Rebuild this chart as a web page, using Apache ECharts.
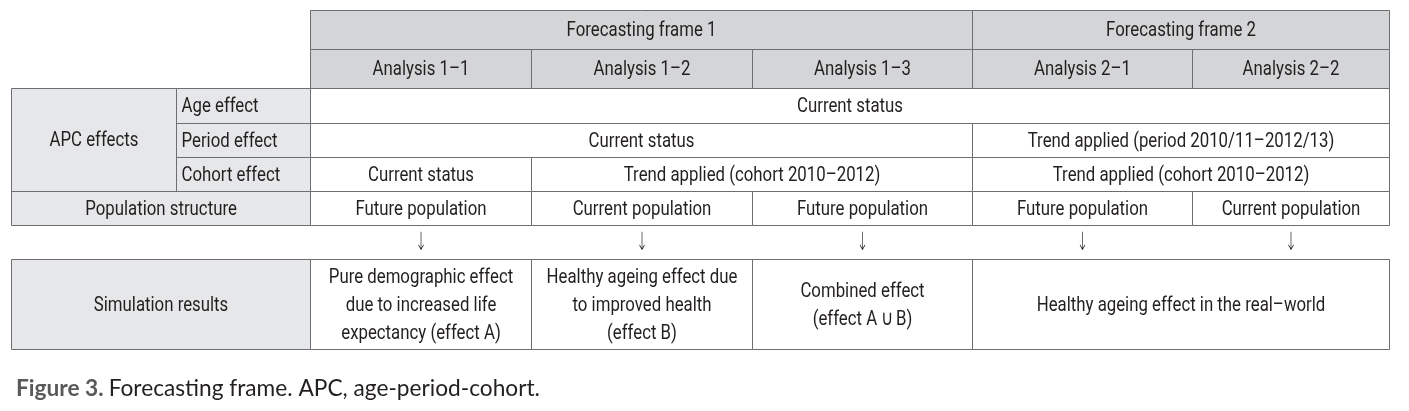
<!DOCTYPE html>
<html>
<head>
<meta charset="utf-8">
<script src="https://cdn.jsdelivr.net/npm/echarts@6/dist/echarts.min.js"></script>
<style>
  html, body { margin: 0; padding: 0; background: #fff; }
  #main { width: 1409px; height: 411px; }
</style>
</head>
<body>
<div id="main"></div>
<script>
// table content
const frames = ['Forecasting frame 1', 'Forecasting frame 2'];
const analyses = ['Analysis 1–1', 'Analysis 1–2', 'Analysis 1–3', 'Analysis 2–1', 'Analysis 2–2'];
const rowGroups = ['APC effects', 'Population structure', 'Simulation results'];
const apcEffects = ['Age effect', 'Period effect', 'Cohort effect'];
const ageRow = ['Current status'];
const periodRow = ['Current status', 'Trend applied (period 2010/11–2012/13)'];
const cohortRow = ['Current status', 'Trend applied (cohort 2010–2012)', 'Trend applied (cohort 2010–2012)'];
const populationRow = ['Future population', 'Current population', 'Future population', 'Future population', 'Current population'];
const simulationRow = [
  'Pure demographic effect\ndue to increased life\nexpectancy (effect A)',
  'Healthy ageing effect due\nto improved health\n(effect B)',
  'Combined effect\n(effect A\u2009∪\u2009B)',
  'Healthy ageing effect in the real–world'
];
const arrow = '↓';
const caption = ['Figure 3.', 'Forecasting frame. APC, age-period-cohort.'];

// layout (grid lines of the table, in axis units)
const colEdges = [11, 176, 310, 531, 752, 972, 1192, 1389];
const rowEdges = [10, 49, 88, 123, 157, 191, 225, 259, 349];

const FONT = 'Roboto, sans-serif';
const SQUEEZE = 0.8; // condensed look
const HEAD = '#d4d5d6';
const SIDE = '#e6e7e8';

// cells: [col0, col1, row0, row1, text, fill, align]
const cells = [];
cells.push([2, 5, 0, 1, frames[0], HEAD, 'center']);
cells.push([5, 7, 0, 1, frames[1], HEAD, 'center']);
analyses.forEach((a, i) => cells.push([2 + i, 3 + i, 1, 2, a, HEAD, 'center']));
cells.push([0, 1, 2, 5, rowGroups[0], SIDE, 'center']);
apcEffects.forEach((a, i) => cells.push([1, 2, 2 + i, 3 + i, a, SIDE, 'left']));
cells.push([2, 7, 2, 3, ageRow[0], '#fff', 'center']);
cells.push([2, 5, 3, 4, periodRow[0], '#fff', 'center']);
cells.push([5, 7, 3, 4, periodRow[1], '#fff', 'center']);
cells.push([2, 3, 4, 5, cohortRow[0], '#fff', 'center']);
cells.push([3, 5, 4, 5, cohortRow[1], '#fff', 'center']);
cells.push([5, 7, 4, 5, cohortRow[2], '#fff', 'center']);
cells.push([0, 2, 5, 6, rowGroups[1], SIDE, 'center']);
populationRow.forEach((p, i) => cells.push([2 + i, 3 + i, 5, 6, p, '#fff', 'center']));
analyses.forEach((a, i) => cells.push([2 + i, 3 + i, 6, 7, arrow, null, 'center']));
cells.push([0, 2, 7, 8, rowGroups[2], SIDE, 'center']);
cells.push([2, 3, 7, 8, simulationRow[0], '#fff', 'center']);
cells.push([3, 4, 7, 8, simulationRow[1], '#fff', 'center']);
cells.push([4, 5, 7, 8, simulationRow[2], '#fff', 'center']);
cells.push([5, 7, 7, 8, simulationRow[3], '#fff', 'center']);

const chart = echarts.init(document.getElementById('main'));

function renderCell(params, api) {
  const c = cells[params.dataIndex];
  const p0 = api.coord([colEdges[c[0]], rowEdges[c[2]]]);
  const p1 = api.coord([colEdges[c[1]], rowEdges[c[3]]]);
  const x = Math.round(p0[0]) + 0.5, y = Math.round(p0[1]) + 0.5;
  const w = Math.round(p1[0]) - Math.round(p0[0]);
  const h = Math.round(p1[1]) - Math.round(p0[1]);
  const children = [];
  if (c[5]) {
    children.push({
      type: 'rect',
      shape: { x: x, y: y, width: w, height: h },
      style: { fill: c[5], stroke: '#6d6e71', lineWidth: 1 }
    });
  }
  const isArrow = c[4] === arrow;
  children.push({
    type: 'text',
    x: c[6] === 'left' ? x + 5 : x + w / 2,
    y: y + h / 2 + 1,
    scaleX: isArrow ? 0.55 : SQUEEZE,
    style: {
      text: c[4],
      x: 0,
      y: 0,
      align: c[6],
      verticalAlign: 'middle',
      font: isArrow ? '300 25px "DejaVu Sans", sans-serif' : '21px ' + FONT,
      lineHeight: 28,
      fill: '#231f20'
    }
  });
  return { type: 'group', children: children };
}

const option = {
  animation: false,
  title: {
    left: 11,
    top: 372,
    text: '{b|' + caption[0] + '} {r|' + caption[1] + '}',
    textStyle: {
      rich: {
        b: { fontFamily: 'Lato', fontWeight: 'bold', fontSize: 22.7, color: '#58595b' },
        r: { fontFamily: 'Lato', fontWeight: 'normal', fontSize: 22.7, color: '#231f20' }
      }
    }
  },
  grid: { left: 0, right: 0, top: 0, bottom: 0 },
  xAxis: { type: 'value', min: 0, max: 1409, show: false },
  yAxis: { type: 'value', min: 0, max: 411, inverse: true, show: false },
  series: [{
    type: 'custom',
    coordinateSystem: 'cartesian2d',
    renderItem: renderCell,
    data: cells.map((c, i) => [colEdges[c[0]], rowEdges[c[2]], i]),
    silent: true
  }]
};
chart.setOption(option);
</script>
</body>
</html>
